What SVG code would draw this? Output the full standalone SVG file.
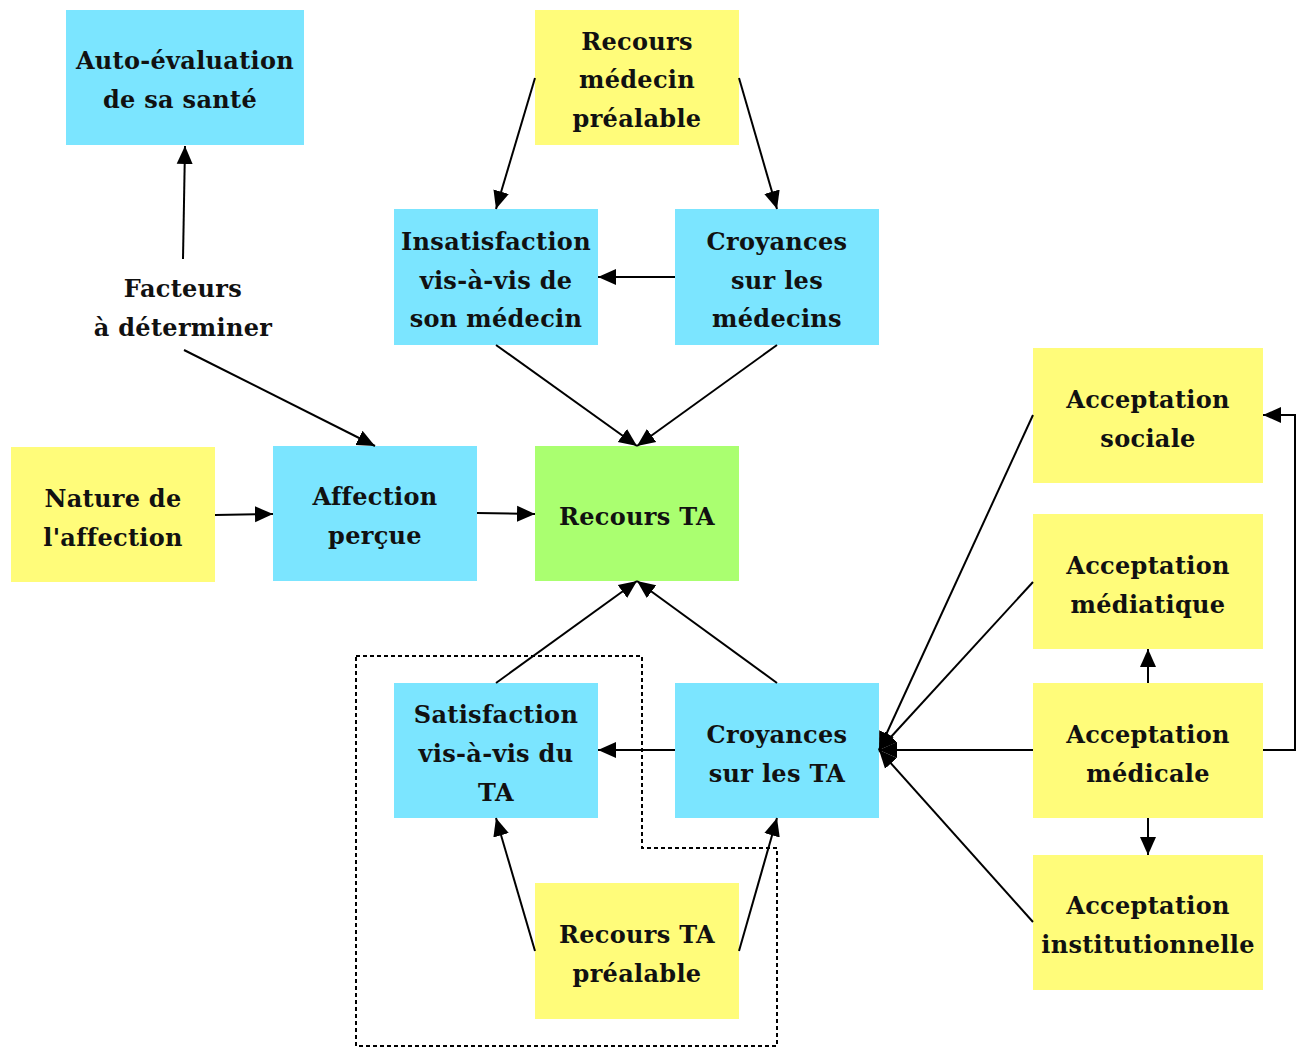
<svg xmlns="http://www.w3.org/2000/svg" width="1309" height="1048" viewBox="0 0 1309 1048">
<style>
.c{fill:#7BE5FF}
.y{fill:#FFFC7A}
.g{fill:#AAFF70}
text{font-family:"DejaVu Serif","Liberation Serif",serif;font-weight:bold;font-size:24px;letter-spacing:0.3px;fill:#111;text-anchor:middle;dominant-baseline:central}
.e{fill:none;stroke:#000;stroke-width:2;marker-end:url(#a)}
.d{fill:none;stroke:#000;stroke-width:2;stroke-dasharray:4,3}
</style>
<defs>
<marker id="a" markerUnits="userSpaceOnUse" markerWidth="20" markerHeight="18" refX="18" refY="9" orient="auto">
<path d="M0,1 L18,9 L0,17 z" fill="#000"/>
</marker>
</defs>
<rect width="1309" height="1048" fill="#fff"/>
<g id="nodes">
<g id="autoeval"><rect class="c" x="66" y="10" width="238" height="135"/><text x="185" y="60">Auto-évaluation</text><text x="180" y="99">de sa santé</text></g>
<g id="recoursmed"><rect class="y" x="535" y="10" width="204" height="135"/><text x="637" y="41">Recours</text><text x="637" y="79">médecin</text><text x="637" y="118">préalable</text></g>
<g id="insatisfaction"><rect class="c" x="394" y="209" width="204" height="136"/><text x="496" y="241">Insatisfaction</text><text x="496" y="280">vis-à-vis de</text><text x="496" y="318">son médecin</text></g>
<g id="croymed"><rect class="c" x="675" y="209" width="204" height="136"/><text x="777" y="241">Croyances</text><text x="777" y="280">sur les</text><text x="777" y="318">médecins</text></g>
<g id="facteurs"><text x="183" y="288">Facteurs</text><text x="183" y="327">à déterminer</text></g>
<g id="accsociale"><rect class="y" x="1033" y="348" width="230" height="135"/><text x="1148" y="399">Acceptation</text><text x="1148" y="438">sociale</text></g>
<g id="nature"><rect class="y" x="11" y="447" width="204" height="135"/><text x="113" y="498">Nature de</text><text x="113" y="537">l'affection</text></g>
<g id="affection"><rect class="c" x="273" y="446" width="204" height="135"/><text x="375" y="496">Affection</text><text x="375" y="535">perçue</text></g>
<g id="recoursta"><rect class="g" x="535" y="446" width="204" height="135"/><text x="637" y="516">Recours TA</text></g>
<g id="accmediatique"><rect class="y" x="1033" y="514" width="230" height="135"/><text x="1148" y="565">Acceptation</text><text x="1148" y="604">médiatique</text></g>
<g id="satisfaction"><rect class="c" x="394" y="683" width="204" height="135"/><text x="496" y="714">Satisfaction</text><text x="496" y="753">vis-à-vis du</text><text x="496" y="792">TA</text></g>
<g id="croyta"><rect class="c" x="675" y="683" width="204" height="135"/><text x="777" y="734">Croyances</text><text x="777" y="773">sur les TA</text></g>
<g id="accmedicale"><rect class="y" x="1033" y="683" width="230" height="135"/><text x="1148" y="734">Acceptation</text><text x="1148" y="773">médicale</text></g>
<g id="recourstapre"><rect class="y" x="535" y="883" width="204" height="136"/><text x="637" y="934">Recours TA</text><text x="637" y="973">préalable</text></g>
<g id="accinst"><rect class="y" x="1033" y="855" width="230" height="135"/><text x="1148" y="905">Acceptation</text><text x="1148" y="944">institutionnelle</text></g>
</g>
<g id="connectors">
<path class="d" d="M356,656 H642 V848 H777 V1046 H356 Z"/>
<path class="e" d="M183,259 L185,146"/>
<path class="e" d="M184,350 L375,446"/>
<path class="e" d="M535,78 L496,209"/>
<path class="e" d="M739,78 L777,209"/>
<path class="e" d="M675,277 L598,277"/>
<path class="e" d="M496,345 L637,446"/>
<path class="e" d="M777,345 L637,446"/>
<path class="e" d="M215,515 L273,514"/>
<path class="e" d="M477,513 L535,514"/>
<path class="e" d="M496,683 L637,581"/>
<path class="e" d="M777,683 L637,581"/>
<path class="e" d="M675,750 L598,750"/>
<path class="e" d="M535,951 L496,818"/>
<path class="e" d="M739,951 L777,818"/>
<path class="e" d="M1033,415 L879,750"/>
<path class="e" d="M1033,582 L879,750"/>
<path class="e" d="M1033,750 L879,750"/>
<path class="e" d="M1033,922 L879,750"/>
<path class="e" d="M1148,683 L1148,649"/>
<path class="e" d="M1148,818 L1148,855"/>
<path class="e" d="M1263,750 H1295 V415 H1263"/>
</g>
</svg>
